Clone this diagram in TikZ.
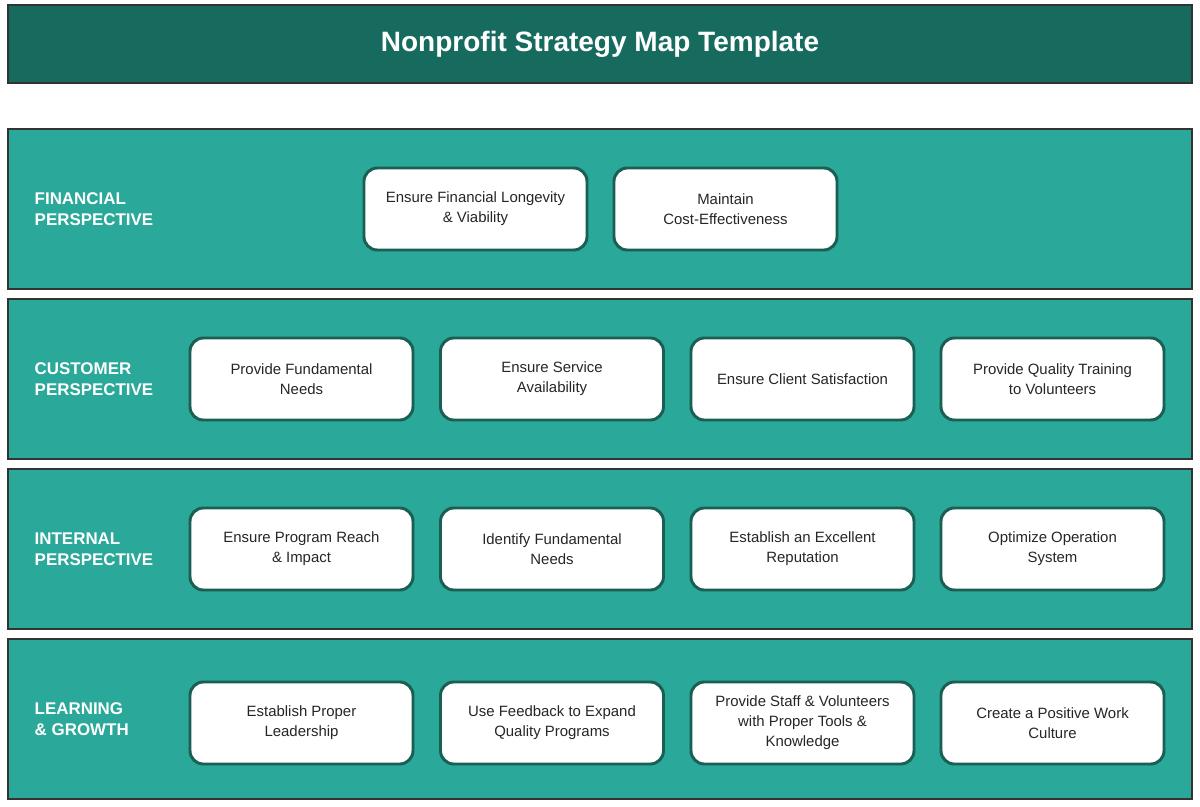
\documentclass[tikz,border=0pt]{standalone}
\usepackage{fontspec}
\setmainfont{Liberation Sans}
\definecolor{dark}{HTML}{176B5E}
\definecolor{band}{HTML}{2AA89A}
\definecolor{edge}{HTML}{1B5E53}
\begin{document}
\begin{tikzpicture}[x=0.75pt,y=-0.75pt,
 bandbox/.style={fill=band,draw=black!80,line width=0.8pt},
 obj/.style={draw=edge,fill=white,rounded corners=10pt,line width=2.2pt,minimum width=223*0.75pt,minimum height=82*0.75pt,align=center,font=\fontsize{11.2}{15}\selectfont,text=black!85},
 lbl/.style={anchor=west,align=left,text=white,font=\fontsize{12.7}{16}\selectfont\bfseries}]
\useasboundingbox (0,0) rectangle (1200,807);
\draw[fill=dark,draw=black!80,line width=0.8pt] (8,5) rectangle (1192,83);
\node[text=white,font=\fontsize{21}{25}\selectfont\bfseries] (title) at (600,44) {Nonprofit Strategy Map Template};
\foreach \y in {129,299,469,639} \draw[bandbox] (8,\y) rectangle (1192,\y+160);
\node[lbl] (l1) at (30,209) {FINANCIAL\\PERSPECTIVE};
\node[lbl] (l2) at (30,379) {CUSTOMER\\PERSPECTIVE};
\node[lbl] (l3) at (30,549) {INTERNAL\\PERSPECTIVE};
\node[lbl] (l4) at (30,719) {LEARNING\\\& GROWTH};
\node[obj] (f1) at (475.5,209) {Ensure Financial Longevity\\\& Viability};
\node[obj] (f2) at (725.5,209) {Maintain\\Cost-Effectiveness};
\node[obj] (c1) at (301.5,379) {Provide Fundamental\\Needs};
\node[obj] (c2) at (552,379) {Ensure Service\\Availability};
\node[obj] (c3) at (802.5,379) {Ensure Client Satisfaction};
\node[obj] (c4) at (1052.5,379) {Provide Quality Training\\to Volunteers};
\node[obj] (i1) at (301.5,549) {Ensure Program Reach\\\& Impact};
\node[obj] (i2) at (552,549) {Identify Fundamental\\Needs};
\node[obj] (i3) at (802.5,549) {Establish an Excellent\\Reputation};
\node[obj] (i4) at (1052.5,549) {Optimize Operation\\System};
\node[obj] (g1) at (301.5,723) {Establish Proper\\Leadership};
\node[obj] (g2) at (552,723) {Use Feedback to Expand\\Quality Programs};
\node[obj] (g3) at (802.5,723) {Provide Staff \& Volunteers\\with Proper Tools \&\\Knowledge};
\node[obj] (g4) at (1052.5,723) {Create a Positive Work\\Culture};
\end{tikzpicture}
\end{document}
